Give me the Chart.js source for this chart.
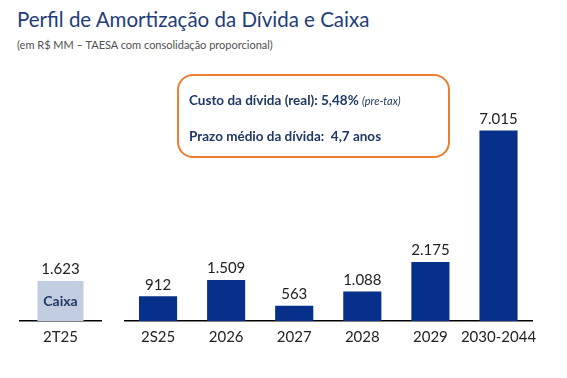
<!DOCTYPE html>
<html><head><meta charset="utf-8">
<script src="https://cdn.jsdelivr.net/npm/chart.js@4"></script>
<style>
body{margin:0;width:567px;height:378px;background:#fff;position:relative;overflow:hidden;font-family:Lato,sans-serif;}
#title{position:absolute;left:17px;top:7px;font-size:20.5px;color:#1f3d7a;white-space:nowrap;}
#sub{position:absolute;left:17px;top:38px;font-size:11px;color:#505050;white-space:nowrap;}
#box{position:absolute;left:177px;top:74px;width:273px;height:84px;border:2.5px solid #ed7d31;border-radius:16px;box-sizing:border-box;color:#1f3864;font-weight:bold;font-size:13.5px;}
#box .l1{position:absolute;left:10px;top:16px;white-space:nowrap;}
#box .l2{position:absolute;left:10px;top:52px;white-space:nowrap;}
#box i{font-weight:normal;font-size:11px;}
.c{position:absolute;top:0;height:353px;}
</style></head><body>
<div id="title">Perfil de Amortização da Dívida e Caixa</div>
<div id="sub">(em R$ MM – TAESA com consolidação proporcional)</div>
<div class="c" style="left:19px;width:83px;"><canvas id="c1"></canvas></div>
<div class="c" style="left:124px;width:420px;"><canvas id="c2"></canvas></div>
<div id="box"><div class="l1">Custo da dívida (real): 5,48% <i>(pre-tax)</i></div><div class="l2">Prazo médio da dívida:&nbsp; 4,7 anos</div></div>
<script>
const cashLabels = ["2T25"];
const cashValues = [1623];
const debtLabels = ["2S25","2026","2027","2028","2029","2030-2044"];
const debtValues = [912,1509,563,1088,2175,7015];

const fmt = v => v.toLocaleString('pt-BR');
const valuePlugin = {
  id:'vals',
  afterDatasetsDraw(chart){
    const ctx = chart.ctx;
    const meta = chart.getDatasetMeta(0);
    ctx.save();
    ctx.font = '15px Lato';
    ctx.fillStyle = '#222';
    ctx.textAlign = 'center';
    ctx.textBaseline = 'bottom';
    meta.data.forEach((el,i)=>{
      ctx.fillText(fmt(chart.data.datasets[0].data[i]), el.x, el.y - 4);
    });
    if (chart.options.plugins.vals && chart.options.plugins.vals.inner) {
      ctx.font = 'bold 14px Lato';
      ctx.fillStyle = '#1f3864';
      ctx.textBaseline = 'middle';
      meta.data.forEach(el=>{
        ctx.fillText(chart.options.plugins.vals.inner, el.x, (el.y + el.base)/2 + 1);
      });
    }
    ctx.restore();
  }
};

function make(id, labels, values, color, bp, max, inner, padRight){
  return new Chart(document.getElementById(id), {
    type:'bar',
    data:{labels, datasets:[{data:values, backgroundColor:color, barPercentage:bp, categoryPercentage:1}]},
    options:{
      responsive:true, maintainAspectRatio:false, animation:false,
      layout:{autoPadding:false, padding:{top:0,bottom:0,left:0,right:padRight}},
      plugins:{legend:{display:false}, tooltip:{enabled:false}, vals:{inner}},
      scales:{
        x:{grid:{display:false, drawTicks:false}, border:{color:'#000', width:1.5},
           ticks:{color:'#222', font:{size:15, family:'Lato'}, padding:7, maxRotation:0, minRotation:0, autoSkip:false}},
        y:{display:false, min:0, max:max}
      }
    },
    plugins:[valuePlugin]
  });
}
make('c1', cashLabels, cashValues, '#c3cde1', 0.555, 12985, 'Caixa', 0);
make('c2', debtLabels, debtValues, '#06308a', 0.56, 11815, null, 11);
</script>
</body></html>
